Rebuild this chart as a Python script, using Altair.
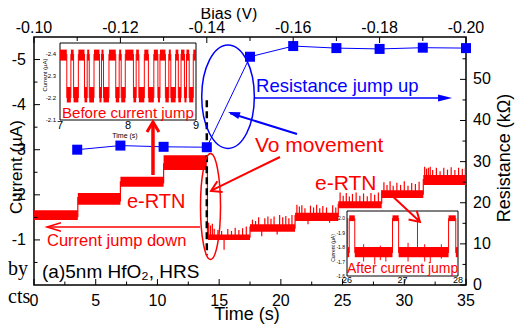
import altair as alt
import pandas as pd

FONT = "Liberation Sans"
RED = "#ff0000"
BLUE = "#0000ff"

# ---------------- data ----------------
# resistance vs bias (blue squares)
bias = [-0.11, -0.12, -0.13, -0.14, -0.15, -0.16, -0.17, -0.18, -0.19, -0.20]
resistance = [32.9, 33.9, 33.6, 33.5, 55.5, 58.1, 57.6, 57.4, 57.7, 57.6]

# current vs time: dense RTN bands (start, end, lower edge, upper edge)
band_t0 = [0.0, 3.55, 7.0, 10.5, 14.1, 17.5, 21.15, 24.65, 28.17, 31.54]
band_t1 = [3.55, 7.0, 10.5, 14.0, 17.5, 21.15, 24.65, 28.17, 31.54, 35.0]
band_lo = [-1.44, -1.78, -2.18, -2.55, -1.00, -1.18, -1.42, -1.70, -1.93, -2.22]
band_hi = [-1.66, -2.04, -2.40, -2.88, -1.12, -1.35, -1.60, -1.86, -2.10, -2.44]

# RTN spikes (time, from, to)
spk_t = [3.55, 7.0, 10.5, 14.05,
         14.15, 14.3, 14.45, 14.6, 14.9, 15.2, 15.4, 15.7, 16.0, 16.3, 16.6, 16.9, 17.2, 17.5,
         17.7, 17.95, 18.2, 18.45, 18.7, 18.95, 19.2, 19.45, 19.7, 19.9, 20.15, 20.4, 20.65, 20.9, 21.15,
         21.3, 21.5, 21.7, 21.95, 22.2, 22.4, 22.65, 22.9, 23.15, 23.4, 23.7, 23.95, 24.2, 24.45, 24.65,
         24.8, 25.05, 25.3, 25.55, 25.8, 26.1, 26.4, 26.7, 27.0, 27.3, 27.6, 27.9, 28.17,
         28.35, 28.6, 28.85, 29.1, 29.4, 29.7, 30.0, 30.3, 30.6, 30.9, 31.2, 31.54,
         31.65, 31.8, 31.95, 32.1, 32.3, 32.6, 32.9, 33.2, 33.5, 33.8, 34.1, 34.4, 34.7, 34.95]
spk_a = [-1.5, -1.85, -2.25, -2.6,
         -1.05, -1.05, -1.05, -1.08, -1.08, -1.08, -0.78, -1.08, -1.08, -1.08, -1.08, -1.08, -1.08, -1.05,
         -1.2, -1.2, -1.2, -1.08, -1.2, -1.2, -1.2, -1.2, -1.12, -1.22, -1.22, -1.22, -1.22, -1.22, -1.25,
         -1.45, -1.45, -1.45, -1.45, -1.35, -1.45, -1.45, -1.45, -1.45, -1.45, -1.45, -1.38, -1.45, -1.45, -1.5,
         -1.72, -1.72, -1.72, -1.72, -1.72, -1.72, -1.72, -1.72, -1.72, -1.72, -1.72, -1.72, -1.8,
         -1.95, -1.95, -1.95, -1.95, -1.95, -1.95, -1.95, -1.95, -1.95, -1.95, -1.95, -2.0,
         -2.25, -2.25, -2.25, -2.25, -2.25, -2.25, -2.25, -2.25, -2.25, -2.25, -2.25, -2.25, -2.25, -2.25]
spk_b = [-1.95, -2.3, -2.7, -1.05,
         -1.38, -1.32, -1.36, -1.25, -1.22, -1.2, -1.05, -1.24, -1.2, -1.27, -1.22, -1.26, -1.3, -1.3,
         -1.45, -1.42, -1.5, -1.3, -1.48, -1.52, -1.47, -1.52, -1.3, -1.55, -1.5, -1.53, -1.48, -1.55, -1.55,
         -1.78, -1.74, -1.77, -1.7, -1.55, -1.76, -1.72, -1.78, -1.7, -1.75, -1.72, -1.55, -1.77, -1.72, -1.8,
         -2.05, -1.98, -2.04, -1.96, -2.02, -2.05, -1.98, -2.03, -1.97, -2.04, -2.0, -2.05, -2.1,
         -2.28, -2.22, -2.3, -2.2, -2.27, -2.22, -2.3, -2.2, -2.26, -2.24, -2.29, -2.35,
         -2.62, -2.58, -2.6, -2.62, -2.55, -2.6, -2.52, -2.6, -2.56, -2.61, -2.55, -2.6, -2.58, -2.6]

# inset 1 (before jump): switching times, state alternates high/low starting high
in1_switch = [7.00, 7.10, 7.16, 7.20, 7.27, 7.36, 7.40, 7.43, 7.50, 7.58, 7.61, 7.64, 7.72, 7.82, 7.87,
              7.90, 7.96, 8.08, 8.12, 8.16, 8.24, 8.30, 8.38, 8.44, 8.47, 8.55, 8.60, 8.63, 8.70, 8.74,
              8.78, 8.83, 8.86, 8.90, 8.96, 9.00]
in1_high = (-2.37, -2.42)
in1_low = (-2.18, -2.25)
in1_yticks = [-2.4, -2.3, -2.2, -2.1]
in1_ylabels = ["-2.4", "-2.3", "-2.2", "-2.1"]
in1_xticks = [7, 8, 9]

# inset 2 (after jump)
in2_base_t0 = [26.0, 26.14, 26.93, 27.96]
in2_base_t1 = [26.04, 26.82, 27.83, 28.0]
in2_high_t0 = [26.04, 26.82, 27.83]
in2_high_t1 = [26.14, 26.93, 27.96]
in2_base = (-1.73, -1.80)
in2_high = (-1.98, -2.02)
in2_spk_t = [26.01, 26.04, 26.14, 26.82, 26.93, 27.27, 27.83, 27.96, 26.3, 26.5, 26.7, 27.1, 27.5, 27.7, 26.6, 27.4]
in2_spk_a = [-1.76, -1.76, -1.76, -1.76, -1.76, -1.76, -1.76, -1.76, -1.70, -1.68, -1.70, -1.70, -1.69, -1.72, -1.71, -1.70]
in2_spk_b = [-2.0, -2.0, -2.0, -2.0, -2.0, -2.0, -2.0, -2.0, -1.82, -1.80, -1.80, -1.83, -1.80, -1.82, -1.81, -1.82]
in2_yticks = [-2.0, -1.9, -1.8, -1.7, -1.6]
in2_ylabels = ["-2.0", "-1.9", "-1.8", "-1.7", "-1.6"]
in2_xticks = [26, 27, 28]

# main axes ticks and labels
time_ticks = [0, 5, 10, 15, 20, 25, 30, 35]
time_labels = ["0", "5", "10", "15", "20", "25", "30", "35"]
current_ticks = [-5, -4, -3, -2, -1]
current_labels = ["-5", "-4", "-3", "-2", "-1"]
bias_ticks = [-0.10, -0.12, -0.14, -0.16, -0.18, -0.20]
bias_labels = ["-0.10", "-0.12", "-0.14", "-0.16", "-0.18", "-0.20"]
res_ticks = [0, 10, 20, 30, 40, 50]
res_labels = ["0", "10", "20", "30", "40", "50"]

W, H = 432, 248

# ---------------- scales ----------------
T = alt.Scale(domain=[0, 35], nice=False, zero=False)
C = alt.Scale(domain=[-5.5, 0], reverse=True, nice=False, zero=False)
B = alt.Scale(domain=[-0.20, -0.10], reverse=True, nice=False, zero=False)
R = alt.Scale(domain=[0, 60.3], nice=False, zero=False)
X1 = alt.Scale(domain=[7, 9], range=[26, 162], nice=False, zero=False)
Y1 = alt.Scale(domain=[-2.45, -2.1], range=[6, 83], nice=False, zero=False)
X2 = alt.Scale(domain=[26, 28], range=[313, 424], nice=False, zero=False)
Y2 = alt.Scale(domain=[-2.05, -1.6], range=[174, 239], nice=False, zero=False)

layers = []

# main red bands
bands = pd.DataFrame({"t0": band_t0, "t1": band_t1, "lo": band_lo, "hi": band_hi})
layers.append(alt.Chart(bands).mark_rect(color=RED).encode(
    x=alt.X("t0:Q", scale=T, axis=None), x2="t1:Q",
    y=alt.Y("lo:Q", scale=C, axis=None), y2="hi:Q"))
spikes = pd.DataFrame({"t": spk_t, "a": spk_a, "b": spk_b})
layers.append(alt.Chart(spikes).mark_rule(color=RED, strokeWidth=1.2).encode(
    x=alt.X("t:Q", scale=T, axis=None), y=alt.Y("a:Q", scale=C, axis=None), y2="b:Q"))

# dashed black line at the jump
dash = pd.DataFrame({"t": [14.0], "a": [-4.10], "b": [-0.66]})
layers.append(alt.Chart(dash).mark_rule(color="black", strokeWidth=2.5, strokeDash=[7, 4]).encode(
    x=alt.X("t:Q", scale=T, axis=None), y=alt.Y("a:Q", scale=C, axis=None), y2="b:Q"))

# blue resistance series
blue = pd.DataFrame({"bias": bias, "res": resistance})
layers.append(alt.Chart(blue).mark_line(color=BLUE, strokeWidth=1).encode(
    x=alt.X("bias:Q", scale=B, axis=None), y=alt.Y("res:Q", scale=R, axis=None)))
layers.append(alt.Chart(blue).mark_point(shape="square", filled=True, color=BLUE, size=100, opacity=1).encode(
    x=alt.X("bias:Q", scale=B, axis=None), y=alt.Y("res:Q", scale=R, axis=None)))

# ---- inset 1 ----
box1 = pd.DataFrame({"a": [7], "b": [9], "c": [-2.45], "d": [-2.1]})
layers.append(alt.Chart(box1).mark_rect(fill="white", stroke="black", strokeWidth=1).encode(
    x=alt.X("a:Q", scale=X1, axis=None), x2="b:Q", y=alt.Y("c:Q", scale=Y1, axis=None), y2="d:Q"))
n1 = len(in1_switch) - 1
seg1 = pd.DataFrame({
    "t0": in1_switch[:-1], "t1": in1_switch[1:],
    "lo": [in1_high[0] if i % 2 == 0 else in1_low[0] for i in range(n1)],
    "hi": [in1_high[1] if i % 2 == 0 else in1_low[1] for i in range(n1)]})
layers.append(alt.Chart(seg1).mark_rect(color=RED).encode(
    x=alt.X("t0:Q", scale=X1, axis=None), x2="t1:Q", y=alt.Y("lo:Q", scale=Y1, axis=None), y2="hi:Q"))
tr1 = pd.DataFrame({"t": in1_switch[1:-1], "a": [-2.2] * (n1 - 1), "b": [-2.4] * (n1 - 1)})
layers.append(alt.Chart(tr1).mark_rule(color=RED, strokeWidth=1).encode(
    x=alt.X("t:Q", scale=X1, axis=None), y=alt.Y("a:Q", scale=Y1, axis=None), y2="b:Q"))
layers.append(alt.Chart(pd.DataFrame({"v": in1_xticks})).mark_text(font=FONT, fontSize=11, baseline="middle").encode(
    x=alt.X("v:Q", scale=X1, axis=None), y=alt.value(89), text="v:Q"))
layers.append(alt.Chart(pd.DataFrame({"v": in1_yticks, "s": in1_ylabels})).mark_text(
    font=FONT, fontSize=6, align="right", baseline="middle").encode(
    x=alt.value(22), y=alt.Y("v:Q", scale=Y1, axis=None), text="s:N"))

# ---- inset 2 ----
box2 = pd.DataFrame({"a": [26], "b": [28], "c": [-2.05], "d": [-1.6]})
layers.append(alt.Chart(box2).mark_rect(fill="white", stroke="black", strokeWidth=1).encode(
    x=alt.X("a:Q", scale=X2, axis=None), x2="b:Q", y=alt.Y("c:Q", scale=Y2, axis=None), y2="d:Q"))
seg2 = pd.DataFrame({
    "t0": in2_base_t0 + in2_high_t0, "t1": in2_base_t1 + in2_high_t1,
    "lo": [in2_base[0]] * len(in2_base_t0) + [in2_high[0]] * len(in2_high_t0),
    "hi": [in2_base[1]] * len(in2_base_t0) + [in2_high[1]] * len(in2_high_t0)})
layers.append(alt.Chart(seg2).mark_rect(color=RED).encode(
    x=alt.X("t0:Q", scale=X2, axis=None), x2="t1:Q", y=alt.Y("lo:Q", scale=Y2, axis=None), y2="hi:Q"))
tr2 = pd.DataFrame({"t": in2_spk_t, "a": in2_spk_a, "b": in2_spk_b})
layers.append(alt.Chart(tr2).mark_rule(color=RED, strokeWidth=1).encode(
    x=alt.X("t:Q", scale=X2, axis=None), y=alt.Y("a:Q", scale=Y2, axis=None), y2="b:Q"))
layers.append(alt.Chart(pd.DataFrame({"v": in2_xticks})).mark_text(font=FONT, fontSize=9, baseline="middle").encode(
    x=alt.X("v:Q", scale=X2, axis=None), y=alt.value(243), text="v:Q"))
layers.append(alt.Chart(pd.DataFrame({"v": in2_yticks, "s": in2_ylabels})).mark_text(
    font=FONT, fontSize=5, align="right", baseline="middle").encode(
    x=alt.value(311), y=alt.Y("v:Q", scale=Y2, axis=None), text="s:N"))

# ---------------- annotations ----------------
def txt(t, c, s, color, size, scx=T, scy=C, align="left", font=FONT):
    df = pd.DataFrame({"t": [t], "c": [c], "s": [s]})
    return alt.Chart(df).mark_text(font=font, fontSize=size, color=color, align=align,
                                   baseline="alphabetic").encode(
        x=alt.X("t:Q", scale=scx, axis=None), y=alt.Y("c:Q", scale=scy, axis=None), text="s:N")

def ptxt(x, y, s, color, size, align="center", angle=0, font=FONT, baseline="alphabetic"):
    return alt.Chart(pd.DataFrame({"s": [s]})).mark_text(
        font=font, fontSize=size, color=color, align=align, angle=angle, baseline=baseline).encode(
        x=alt.value(x), y=alt.value(y), text="s:N")

def shape_at(t, c, path, size, color, width, filled, ang=0):
    df = pd.DataFrame({"t": [t], "c": [c]})
    return alt.Chart(df).mark_point(shape=path, filled=filled, color=color, strokeWidth=width,
                                    opacity=1, size=size, angle=ang).encode(
        x=alt.X("t:Q", scale=T, axis=None), y=alt.Y("c:Q", scale=C, axis=None))

def seg(t0, c0, t1, c1, color, width):
    df = pd.DataFrame({"t0": [t0], "c0": [c0], "t1": [t1], "c1": [c1]})
    return alt.Chart(df).mark_rule(color=color, strokeWidth=width).encode(
        x=alt.X("t0:Q", scale=T, axis=None), x2="t1:Q",
        y=alt.Y("c0:Q", scale=C, axis=None), y2="c1:Q")

CHEV = "M-1,-0.6L0,0L-1,0.6"
CHEV_N = "M-1,-0.3L0,0L-1,0.3"
TRI = "M0,0L-1,-0.3L-1,0.3Z"
TRI_N = "M0,0L-1,-0.25L-1,0.25Z"

# ellipses
layers.append(shape_at(15.72, -4.176, "M-0.509,0A0.509,1 0 1,0 0.509,0A0.509,1 0 1,0 -0.509,0Z",
                       10692, BLUE, 1.5, False))
layers.append(shape_at(14.30, -1.741, "M-0.189,0A0.189,1 0 1,0 0.189,0A0.189,1 0 1,0 -0.189,0Z",
                       11236, RED, 1.5, False))

# arrows
layers.append(seg(9.64, -2.44, 9.64, -3.60, RED, 3.5))
layers.append(shape_at(9.64, -3.615, CHEV, 400, RED, 3, False, 270))
layers.append(seg(13.45, -1.286, 1.1, -1.286, RED, 1.5))
layers.append(shape_at(1.05, -1.286, CHEV_N, 784, RED, 1.5, False, 180))
layers.append(seg(19.93, -2.839, 14.4, -2.10, RED, 2))
layers.append(shape_at(14.34, -2.085, CHEV, 400, RED, 2, False, 154))
layers.append(seg(21.31, -3.349, 15.9, -3.81, BLUE, 2))
layers.append(shape_at(15.72, -3.837, TRI, 576, BLUE, 1, True, 198))
layers.append(seg(17.82, -4.147, 33.3, -4.147, BLUE, 1.5))
layers.append(shape_at(33.87, -4.147, TRI_N, 784, BLUE, 1, True, 0))
layers.append(seg(28.68, -2.062, 31.2, -1.42, RED, 2))
layers.append(shape_at(31.27, -1.397, CHEV, 400, RED, 2, False, 43))

# texts
layers.append(txt(17.99, -4.28, "Resistance jump up", BLUE, 18.5))
layers.append(txt(17.9, -2.95, "Vo movement", RED, 21))
layers.append(txt(7.53, -1.708, "e-RTN", RED, 20))
layers.append(txt(22.77, -2.107, "e-RTN", RED, 21))
layers.append(txt(1.05, -0.865, "Current jump down", RED, 16.5))
layers.append(txt(0.65, -0.155, "(a)5nm HfO\u2082, HRS", "black", 19))
layers.append(txt(7.03, -2.109, "Before current jump", RED, 15, X1, Y1))
layers.append(txt(26.0, -1.62, "After current jump", RED, 14, X2, Y2))

# inset titles
layers.append(ptxt(11, 38, "Current (\u00b5A)", "black", 6, angle=270, baseline="middle"))
layers.append(ptxt(91, 101, "Time (s)", "black", 7))
layers.append(ptxt(299, 211, "Current (\u00b5A)", "black", 5, angle=270, baseline="middle"))

# ---------------- axes: labels, ticks, titles ----------------
def xlab(vals, labs, sc, y, baseline):
    return alt.Chart(pd.DataFrame({"v": vals, "s": labs})).mark_text(
        font=FONT, fontSize=16, color="black", baseline=baseline).encode(
        x=alt.X("v:Q", scale=sc, axis=None), y=alt.value(y), text="s:N")

def ylab(vals, labs, sc, x, align):
    return alt.Chart(pd.DataFrame({"v": vals, "s": labs})).mark_text(
        font=FONT, fontSize=16, color="black", align=align, baseline="middle").encode(
        y=alt.Y("v:Q", scale=sc, axis=None), x=alt.value(x), text="s:N")

layers.append(xlab(time_ticks, time_labels, T, H + 8, "top"))
layers.append(xlab(bias_ticks, bias_labels, B, -4, "alphabetic"))
layers.append(ylab(current_ticks, current_labels, C, -8, "right"))
layers.append(ylab(res_ticks, res_labels, R, W + 7, "left"))

def xt(vals, sc, y0, y1):
    return alt.Chart(pd.DataFrame({"v": vals})).mark_rule(color="black", strokeWidth=1).encode(
        x=alt.X("v:Q", scale=sc, axis=None), y=alt.value(y0), y2=alt.value(y1))

def yt(vals, sc, x0, x1):
    return alt.Chart(pd.DataFrame({"v": vals})).mark_rule(color="black", strokeWidth=1).encode(
        y=alt.Y("v:Q", scale=sc, axis=None), x=alt.value(x0), x2=alt.value(x1))

layers.append(xt(time_ticks, T, H, H - 6))
layers.append(xt([2.5, 7.5, 12.5, 17.5, 22.5, 27.5, 32.5], T, H, H - 3.5))
layers.append(xt(bias_ticks, B, 0, 6))
layers.append(xt([-0.11, -0.13, -0.15, -0.17, -0.19], B, 0, 4))
layers.append(yt(current_ticks, C, 0, 6))
layers.append(yt([-4.5, -3.5, -2.5, -1.5, -0.5], C, 0, 3.5))
layers.append(yt(res_ticks, R, W, W - 6))
layers.append(yt([5, 15, 25, 35, 45, 55], R, W, W - 3.5))

# axis titles
layers.append(ptxt(195, -18, "Bias (V)", "black", 16))
layers.append(ptxt(213, 283, "Time (s)", "black", 18))
layers.append(ptxt(-17, 130, "Current (\u00b5A)", "black", 17, angle=270, baseline="middle"))
layers.append(ptxt(471, 121, "Resistance (k\u03a9)", "black", 18, angle=270, baseline="middle"))

# stray page text from surrounding document
layers.append(ptxt(-26, 238, "by", "black", 20, align="left", font="Liberation Serif"))
layers.append(ptxt(-26, 266, "cts", "black", 20, align="left", font="Liberation Serif"))

chart = alt.layer(*layers).resolve_scale(x="independent", y="independent").properties(
    width=W, height=H,
    padding={"left": 26, "top": 29, "right": 56, "bottom": 43},
    autosize=alt.AutoSizeParams(type="none"),
).configure_view(stroke="black", strokeWidth=1.5)

chart.save("out.html", embed_options={"renderer": "svg", "actions": False})
